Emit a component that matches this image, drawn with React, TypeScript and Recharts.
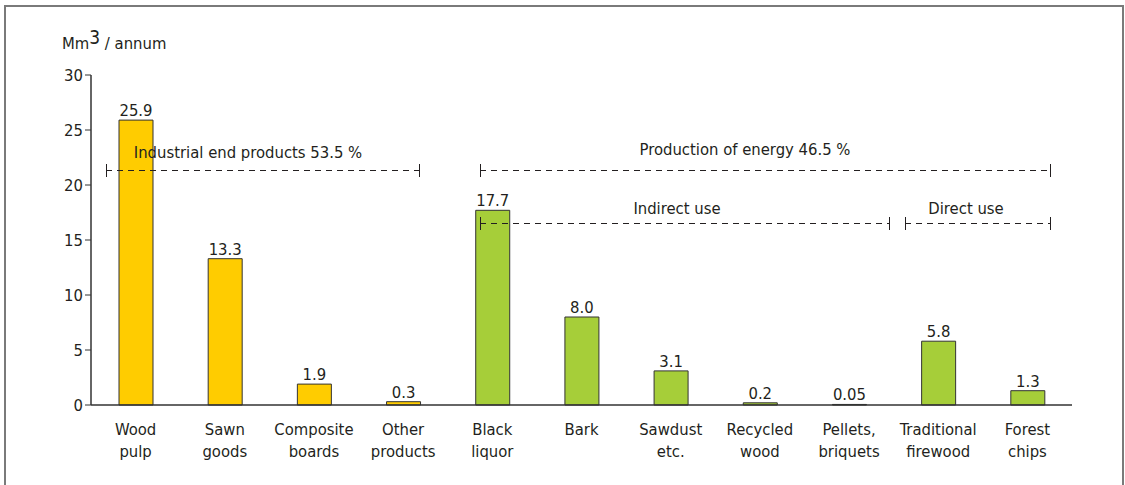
import { BarChart, Bar, XAxis, YAxis, Cell, LabelList } from 'recharts';

const categories = [
  'Wood\npulp',
  'Sawn\ngoods',
  'Composite\nboards',
  'Other\nproducts',
  'Black\nliquor',
  'Bark',
  'Sawdust\netc.',
  'Recycled\nwood',
  'Pellets,\nbriquets',
  'Traditional\nfirewood',
  'Forest\nchips',
];
const volumes = [25.9, 13.3, 1.9, 0.3, 17.7, 8.0, 3.1, 0.2, 0.05, 5.8, 1.3];
const valueLabels = ['25.9', '13.3', '1.9', '0.3', '17.7', '8.0', '3.1', '0.2', '0.05', '5.8', '1.3'];
const groups = ['industry', 'industry', 'industry', 'industry', 'energy', 'energy', 'energy', 'energy', 'energy', 'energy', 'energy'];
const yTicks = [0, 5, 10, 15, 20, 25, 30];

const FONT = '"Liberation Sans Narrow", "DejaVu Sans Condensed", "Roboto Condensed", sans-serif';
const TEXT = '#231f20';
const colors: Record<string, string> = { industry: '#ffcc00', energy: '#a6ce39' };

const data = categories.map((name, i) => ({
  name,
  value: volumes[i],
  label: valueLabels[i],
  group: groups[i],
}));

const XTick = (props: any) => {
  const { x, y, payload } = props;
  const lines = String(payload.value).split('\n');
  return (
    <text x={x} y={y + 22} textAnchor="middle" fill={TEXT} fontSize={16.5} fontFamily={FONT}>
      {lines.map((l, i) => (
        <tspan key={i} x={x} dy={i === 0 ? 0 : 22}>
          {l}
        </tspan>
      ))}
    </text>
  );
};

const Bracket = ({ x1, x2, y, label, lx, ly }: { x1: number; x2: number; y: number; label: string; lx: number; ly: number }) => (
  <g>
    <line x1={x1} x2={x2} y1={y + 0.5} y2={y + 0.5} stroke={TEXT} strokeWidth={1} strokeDasharray="6 5" />
    <line x1={x1 + 0.5} x2={x1 + 0.5} y1={y - 6} y2={y + 7} stroke={TEXT} strokeWidth={1} />
    <line x1={x2 + 0.5} x2={x2 + 0.5} y1={y - 6} y2={y + 7} stroke={TEXT} strokeWidth={1} />
    <text x={lx} y={ly} textAnchor="middle" fill={TEXT} fontSize={16.5} fontFamily={FONT}>
      {label}
    </text>
  </g>
);

export default function App() {
  return (
    <div style={{ position: 'absolute', left: 0, top: 0, width: 1125, height: 485, background: '#fff', fontFamily: FONT }}>
      <div
        style={{
          position: 'absolute',
          left: 4,
          top: 5,
          width: 1116,
          height: 490,
          borderTop: '2px solid #7a7a7a',
          borderLeft: '2px solid #7a7a7a',
          borderRight: '2px solid #7a7a7a',
        }}
      />
      <div style={{ position: 'absolute', left: 62, top: 30, fontSize: 16.5, color: TEXT, lineHeight: '24px' }}>
        Mm<span style={{ fontSize: 19, position: 'relative', top: -5 }}>3</span> / annum
      </div>
      <div style={{ position: 'absolute', left: 0, top: 0 }}>
        <BarChart width={1125} height={485} data={data} margin={{ top: 75, right: 53, bottom: 0, left: 51 }}>
          <YAxis
            domain={[0, 30]}
            ticks={yTicks}
            width={40}
            tickSize={6}
            axisLine={{ stroke: '#333', strokeWidth: 1.5 }}
            tickLine={{ stroke: '#333' }}
            tick={{ fill: TEXT, fontSize: 16.5, fontFamily: FONT }}
            interval={0}
          />
          <XAxis
            dataKey="name"
            height={80}
            axisLine={{ stroke: '#333', strokeWidth: 1.5 }}
            tickLine={false}
            tick={<XTick />}
            interval={0}
          />
          <Bar dataKey="value" barSize={34} stroke="#333" strokeWidth={1} isAnimationActive={false}>
            {data.map((d, i) => (
              <Cell key={i} fill={colors[d.group]} />
            ))}
            <LabelList dataKey="label" position="top" offset={4} fill={TEXT} fontSize={16.5} fontFamily={FONT} />
          </Bar>
        </BarChart>
      </div>
      <svg width={1125} height={485} style={{ position: 'absolute', left: 0, top: 0, pointerEvents: 'none' }}>
        <Bracket x1={106} x2={419} y={170} label="Industrial end products 53.5 %" lx={248} ly={158} />
        <Bracket x1={480} x2={1050} y={170} label="Production of energy 46.5 %" lx={745} ly={155} />
        <Bracket x1={480} x2={889} y={223} label="Indirect use" lx={677} ly={214} />
        <Bracket x1={905} x2={1050} y={223} label="Direct use" lx={966} ly={214} />
      </svg>
    </div>
  );
}
